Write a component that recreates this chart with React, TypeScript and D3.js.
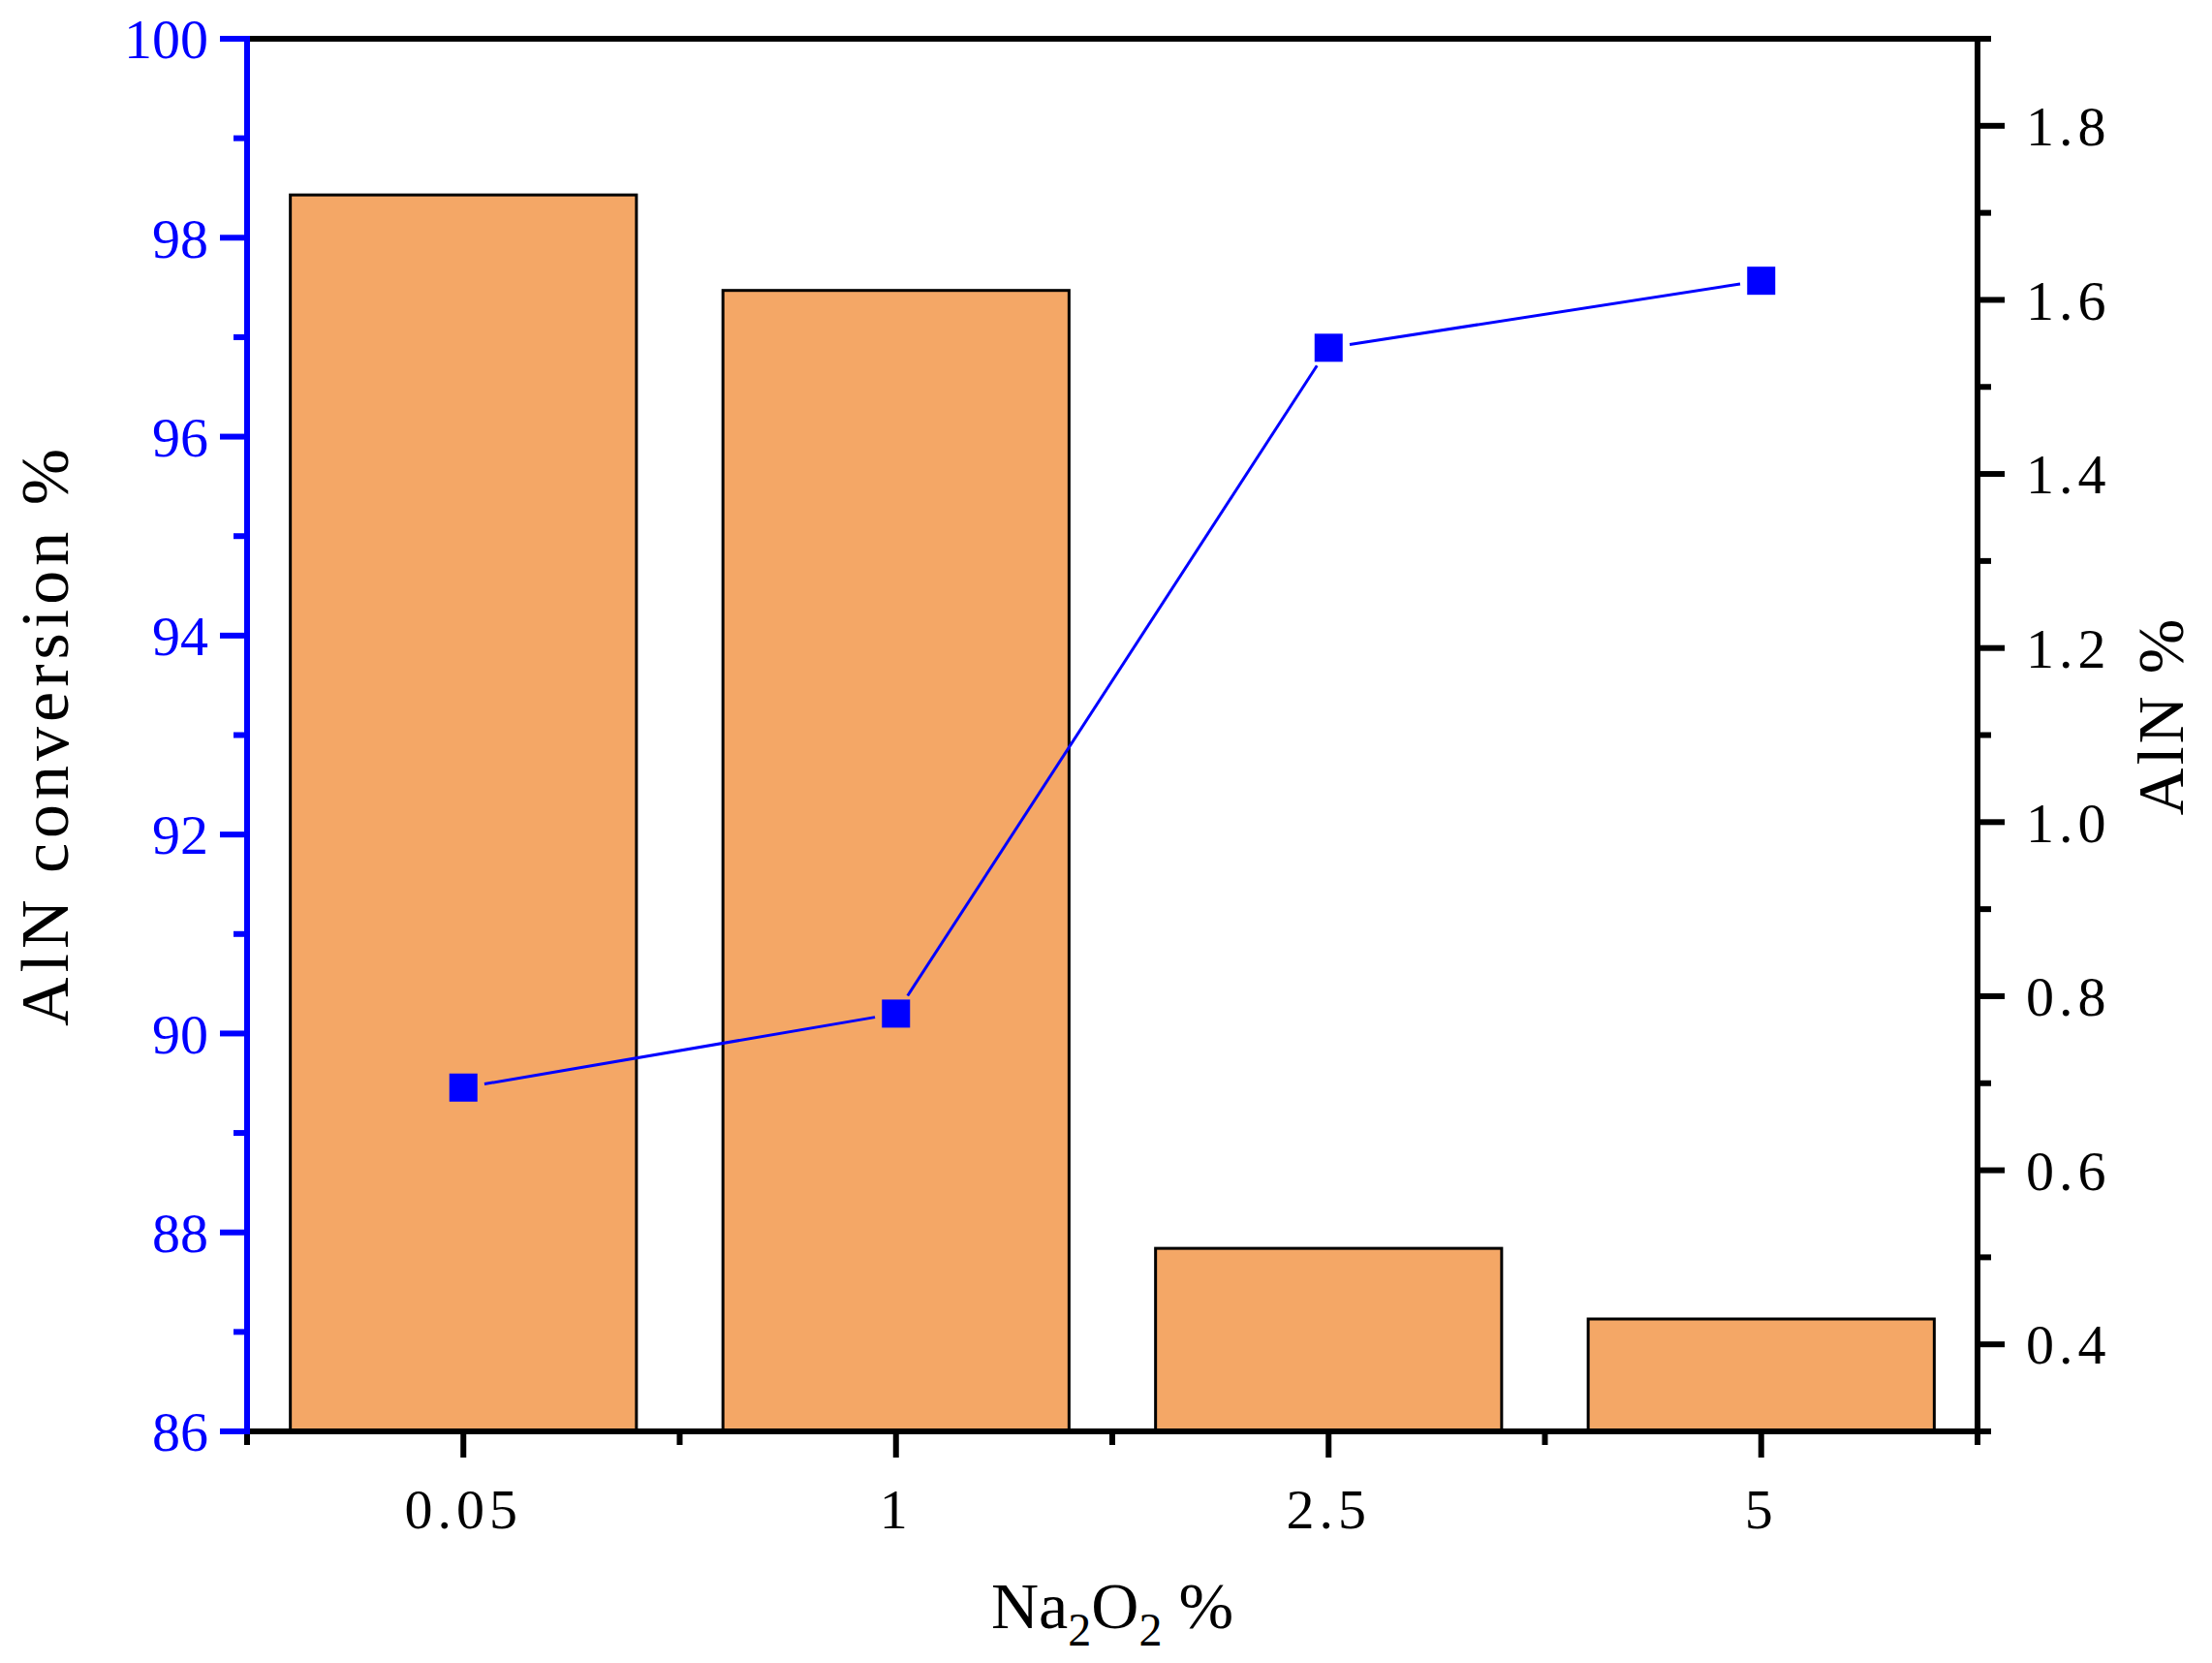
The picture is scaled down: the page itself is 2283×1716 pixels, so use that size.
import React, { useEffect, useRef } from 'react';
import * as d3 from 'd3';

// Na2O2 additions (x categories)
const categories = ['0.05', '1', '2.5', '5'];
// AlN conversion % (bars, left axis)
const conversion = [98.43, 97.47, 87.84, 87.13];
// AlN % (line, right axis)
const alnContent = [0.695, 0.78, 1.545, 1.622];

const leftMajorTicks = [86, 88, 90, 92, 94, 96, 98, 100];
const leftMinorTicks = [87, 89, 91, 93, 95, 97, 99];
const rightMajorTicks = [0.4, 0.6, 0.8, 1.0, 1.2, 1.4, 1.6, 1.8];
const rightMinorTicks = [0.3, 0.5, 0.7, 0.9, 1.1, 1.3, 1.5, 1.7, 1.9];

const width = 2283;
const height = 1716;
const margin = { top: 40, right: 242, bottom: 239, left: 255 };
const font = '"Liberation Serif", "Times New Roman", serif';

const App: React.FC = () => {
  const svgRef = useRef<SVGSVGElement>(null);

  useEffect(() => {
    const svg = d3.select(svgRef.current);
    svg.selectAll('*').remove();

    const innerWidth = width - margin.left - margin.right;
    const innerHeight = height - margin.top - margin.bottom;

    const x = d3.scaleBand<string>()
      .domain(categories)
      .range([0, innerWidth])
      .paddingInner(0.2)
      .paddingOuter(0.1);
    const step = x.step();
    const xCenter = (c: string) => (x(c) || 0) + x.bandwidth() / 2;

    const yLeft = d3.scaleLinear().domain([86, 100]).range([innerHeight, 0]);
    const yRight = d3.scaleLinear().domain([0.3, 1.9]).range([innerHeight, 0]);

    const g = svg.append('g').attr('transform', `translate(${margin.left},${margin.top})`);

    // Bars
    g.selectAll('.bar')
      .data(categories)
      .enter()
      .append('rect')
      .attr('x', d => x(d) || 0)
      .attr('y', (d, i) => yLeft(conversion[i]))
      .attr('width', x.bandwidth())
      .attr('height', (d, i) => innerHeight - yLeft(conversion[i]))
      .style('fill', '#F4A766')
      .style('stroke', '#000')
      .style('stroke-width', '3px');

    // Line with gaps around markers
    const pts = categories.map((c, i) => [xCenter(c), yRight(alnContent[i])] as [number, number]);
    const gap = 22;
    for (let i = 0; i < pts.length - 1; i++) {
      const [x1, y1] = pts[i];
      const [x2, y2] = pts[i + 1];
      const len = Math.hypot(x2 - x1, y2 - y1);
      const ux = (x2 - x1) / len;
      const uy = (y2 - y1) / len;
      g.append('line')
        .attr('x1', x1 + ux * gap)
        .attr('y1', y1 + uy * gap)
        .attr('x2', x2 - ux * gap)
        .attr('y2', y2 - uy * gap)
        .style('stroke', '#0000FF')
        .style('stroke-width', '3px');
    }

    // Markers
    const ms = 29;
    g.selectAll('.marker')
      .data(pts)
      .enter()
      .append('rect')
      .attr('x', d => d[0] - ms / 2)
      .attr('y', d => d[1] - ms / 2)
      .attr('width', ms)
      .attr('height', ms)
      .style('fill', '#0000FF');

    const axisW = 6;

    // Top frame
    g.append('line')
      .attr('x1', 0).attr('x2', innerWidth)
      .attr('y1', 0).attr('y2', 0)
      .style('stroke', '#000').style('stroke-width', axisW);

    // Bottom axis
    const bottom = g.append('g').attr('transform', `translate(0,${innerHeight})`);
    bottom.append('line')
      .attr('x1', 0).attr('x2', innerWidth)
      .style('stroke', '#000').style('stroke-width', axisW);
    d3.range(categories.length + 1).forEach(i => {
      bottom.append('line')
        .attr('x1', i * step).attr('x2', i * step)
        .attr('y1', 0).attr('y2', 14)
        .style('stroke', '#000').style('stroke-width', axisW);
    });
    categories.forEach(c => {
      bottom.append('line')
        .attr('x1', xCenter(c)).attr('x2', xCenter(c))
        .attr('y1', 0).attr('y2', 27)
        .style('stroke', '#000').style('stroke-width', axisW);
      bottom.append('text')
        .attr('x', xCenter(c))
        .attr('y', 100)
        .attr('text-anchor', 'middle')
        .style('font-family', font)
        .style('font-size', '58px')
        .style('letter-spacing', '5px')
        .style('fill', '#000')
        .text(c);
    });

    // Left axis (blue)
    const left = g.append('g');
    left.append('line')
      .attr('x1', 0).attr('x2', 0)
      .attr('y1', -axisW / 2).attr('y2', innerHeight + axisW / 2)
      .style('stroke', '#0000FF').style('stroke-width', axisW);
    leftMajorTicks.forEach(t => {
      left.append('line')
        .attr('x1', -28).attr('x2', 0)
        .attr('y1', yLeft(t)).attr('y2', yLeft(t))
        .style('stroke', '#0000FF').style('stroke-width', axisW);
      left.append('text')
        .attr('x', -40)
        .attr('y', yLeft(t))
        .attr('dy', '0.35em')
        .attr('text-anchor', 'end')
        .style('font-family', font)
        .style('font-size', '58px')
        .style('fill', '#0000FF')
        .text(d3.format('d')(t));
    });
    leftMinorTicks.forEach(t => {
      left.append('line')
        .attr('x1', -14).attr('x2', 0)
        .attr('y1', yLeft(t)).attr('y2', yLeft(t))
        .style('stroke', '#0000FF').style('stroke-width', axisW);
    });

    // Right axis (black)
    const right = g.append('g').attr('transform', `translate(${innerWidth},0)`);
    right.append('line')
      .attr('x1', 0).attr('x2', 0)
      .attr('y1', -axisW / 2).attr('y2', innerHeight + axisW / 2)
      .style('stroke', '#000').style('stroke-width', axisW);
    rightMajorTicks.forEach(t => {
      right.append('line')
        .attr('x1', 0).attr('x2', 28)
        .attr('y1', yRight(t)).attr('y2', yRight(t))
        .style('stroke', '#000').style('stroke-width', axisW);
      right.append('text')
        .attr('x', 50)
        .attr('y', yRight(t))
        .attr('dy', '0.35em')
        .style('font-family', font)
        .style('font-size', '58px')
        .style('letter-spacing', '5px')
        .style('fill', '#000')
        .text(d3.format('.1f')(t));
    });
    rightMinorTicks.forEach(t => {
      right.append('line')
        .attr('x1', 0).attr('x2', 14)
        .attr('y1', yRight(t)).attr('y2', yRight(t))
        .style('stroke', '#000').style('stroke-width', axisW);
    });

    // Axis titles
    svg.append('text')
      .attr('transform', `translate(70,${margin.top + innerHeight / 2}) rotate(-90)`)
      .attr('text-anchor', 'middle')
      .style('font-family', font)
      .style('font-size', '70px')
      .style('letter-spacing', '5px')
      .style('fill', '#000')
      .text('AlN conversion %');

    svg.append('text')
      .attr('transform', `translate(2253,${margin.top + innerHeight / 2 - 20}) rotate(-90)`)
      .attr('text-anchor', 'middle')
      .style('font-family', font)
      .style('font-size', '68px')
      .style('letter-spacing', '3px')
      .style('fill', '#000')
      .text('AlN %');

    const xt = svg.append('text')
      .attr('x', margin.left + innerWidth / 2)
      .attr('y', 1680)
      .attr('text-anchor', 'middle')
      .style('font-family', font)
      .style('font-size', '68px')
      .style('fill', '#000');
    xt.append('tspan').text('Na');
    xt.append('tspan').attr('dy', 18).style('font-size', '48px').text('2');
    xt.append('tspan').attr('dy', -18).text('O');
    xt.append('tspan').attr('dy', 18).style('font-size', '48px').text('2');
    xt.append('tspan').attr('dy', -18).text('\u00a0%');
  }, []);

  return (
    <div style={{ position: 'absolute', left: 0, top: 0, background: '#fff' }}>
      <svg ref={svgRef} width={width} height={height} style={{ display: 'block' }} />
    </div>
  );
};

export default App;
